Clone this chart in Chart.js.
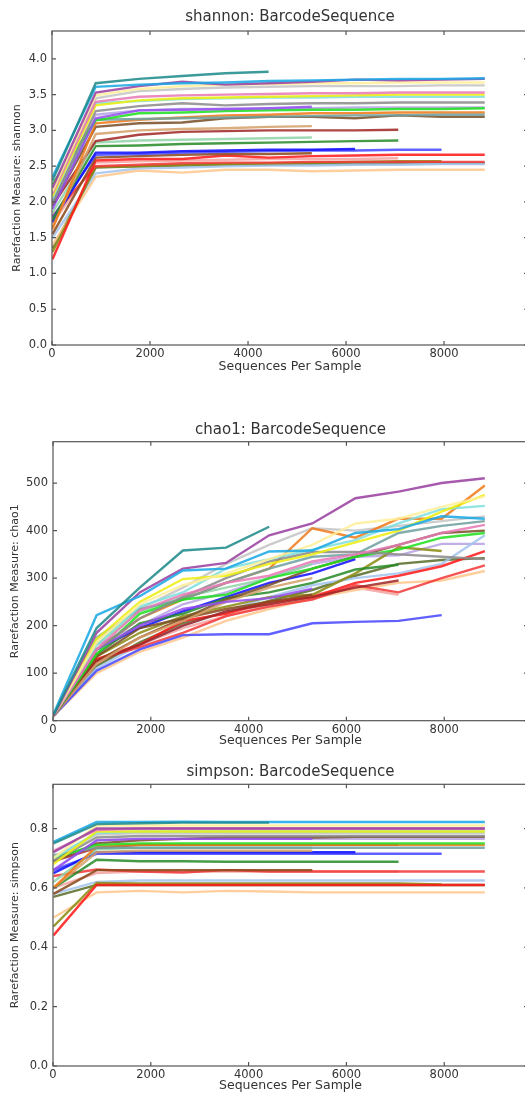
<!DOCTYPE html>
<html>
<head>
<meta charset="utf-8">
<script src="https://cdn.jsdelivr.net/npm/chart.js@4.4.1/dist/chart.umd.min.js"></script>
<style>
html, body { margin: 0; padding: 0; background: #fff; overflow: hidden; width: 525px; height: 1095px; }
canvas { position: absolute; left: 0; }
</style>
</head>
<body>
<canvas id="c1" width="545" height="374" style="top:0px"></canvas>
<canvas id="c2" width="545" height="338" style="top:410px"></canvas>
<canvas id="c3" width="545" height="341" style="top:752px"></canvas>
<script>
// rarefaction depths (x)
const depths = [10, 892, 1774, 2656, 3538, 4420, 5302, 6184, 7066, 7948, 8830];
const xTicks = [0, 2000, 4000, 6000, 8000];

const sampleColors = [
  '#1f8a8a', '#19a9e6', '#9a3fa0', '#ffef9a', '#e87ab8', '#eeee10', '#80e0dc', '#8c8c8c',
  '#9650f0', '#20e020', '#70a0a0', '#f07a1a', '#7a5028', '#d4a06a', '#a02828', '#90d4a8',
  '#2a8c2a', '#1010ff', '#4848ff', '#8b4a1c', '#ff1a1a', '#f23a3a', '#8c8c14', '#a4c4ec',
  '#ffc68e', '#5a6e2a', '#f4a4a0', '#b8a4e4', '#c4c4c4'
];

const shannon = [
  [2.30, 3.66, 3.72, 3.76, 3.80, 3.82],
  [2.35, 3.61, 3.64, 3.66, 3.67, 3.69, 3.70, 3.71, 3.72, 3.72, 3.73],
  [2.20, 3.53, 3.62, 3.68, 3.64, 3.66, 3.68, 3.71, 3.70, 3.71, 3.72],
  [2.15, 3.49, 3.58, 3.62, 3.64, 3.65, 3.66, 3.66, 3.67, 3.67, 3.67],
  [2.12, 3.40, 3.47, 3.49, 3.50, 3.51, 3.52, 3.52, 3.53, 3.53, 3.53],
  [2.08, 3.35, 3.42, 3.45, 3.46, 3.47, 3.48, 3.49, 3.50, 3.50, 3.50],
  [2.05, 3.38, 3.41, 3.44, 3.45, 3.46, 3.46, 3.47, 3.47, 3.47, 3.47],
  [1.98, 3.27, 3.34, 3.38, 3.35, 3.37, 3.38, 3.38, 3.39, 3.39, 3.39],
  [1.90, 3.17, 3.28, 3.29, 3.30, 3.31, 3.33],
  [2.25, 3.14, 3.24, 3.25, 3.27, 3.28, 3.29, 3.29, 3.30, 3.30, 3.31],
  [2.00, 3.15, 3.16, 3.17, 3.18, 3.19, 3.20, 3.21, 3.21, 3.22, 3.22],
  [1.62, 3.10, 3.15, 3.18, 3.21, 3.22, 3.24, 3.24, 3.25, 3.25, 3.25],
  [1.95, 3.05, 3.10, 3.11, 3.17, 3.19, 3.19, 3.17, 3.21, 3.19, 3.19],
  [1.65, 2.95, 3.00, 3.02, 3.03, 3.05, 3.06],
  [1.95, 2.85, 2.94, 2.98, 2.99, 3.00, 3.00, 3.00, 3.01],
  [1.85, 2.83, 2.86, 2.87, 2.88, 2.89, 2.90],
  [1.75, 2.78, 2.79, 2.81, 2.82, 2.83, 2.84, 2.85, 2.86],
  [1.72, 2.69, 2.69, 2.71, 2.72, 2.73, 2.73, 2.74],
  [1.78, 2.66, 2.67, 2.69, 2.70, 2.71, 2.72, 2.72, 2.73, 2.73],
  [1.55, 2.62, 2.64, 2.66, 2.67, 2.67, 2.68],
  [1.20, 2.58, 2.60, 2.60, 2.65, 2.62, 2.64, 2.65, 2.66, 2.66, 2.66],
  [1.80, 2.50, 2.52, 2.54, 2.55, 2.55, 2.56, 2.56, 2.56, 2.56, 2.56],
  [1.30, 2.49, 2.50, 2.52, 2.53, 2.54, 2.55, 2.56, 2.57, 2.57],
  [1.50, 2.40, 2.47, 2.48, 2.50, 2.51, 2.51, 2.52, 2.52, 2.53, 2.53],
  [1.40, 2.35, 2.44, 2.41, 2.45, 2.45, 2.43, 2.44, 2.45, 2.45, 2.45],
  [1.35, 2.48, 2.50, 2.51, 2.52, 2.52, 2.53, 2.53, 2.54, 2.54, 2.54],
  [1.70, 2.55, 2.57, 2.58, 2.59, 2.60, 2.60, 2.60, 2.61],
  [2.02, 3.22, 3.28, 3.30, 3.30, 3.30, 3.31, 3.32, 3.32, 3.32, 3.32],
  [2.10, 3.45, 3.55, 3.58, 3.60, 3.61, 3.62, 3.62, 3.62, 3.63, 3.63]
];

const chao1 = [
  [12, 195, 280, 358, 364, 408],
  [14, 222, 262, 316, 320, 356, 358, 395, 403, 430, 425],
  [10, 185, 270, 320, 332, 390, 415, 468, 482, 500, 510],
  [10, 165, 245, 285, 310, 340, 370, 415, 425, 450, 472],
  [10, 150, 232, 265, 290, 305, 335, 350, 370, 395, 412],
  [10, 172, 250, 298, 305, 330, 350, 375, 400, 440, 475],
  [12, 160, 240, 270, 320, 340, 360, 380, 415, 445, 452],
  [10, 150, 215, 260, 300, 335, 355, 355, 350, 345, 340],
  [10, 150, 200, 235, 250, 258, 278],
  [10, 140, 225, 255, 265, 300, 320, 345, 360, 385, 395],
  [10, 175, 235, 255, 290, 320, 345, 350, 395, 410, 420],
  [10, 150, 215, 255, 290, 320, 405, 385, 425, 425, 495],
  [10, 135, 195, 215, 255, 285, 320, 345, 370, 395, 400],
  [10, 120, 175, 210, 250, 280, 300],
  [10, 125, 160, 200, 230, 245, 260, 280, 295],
  [10, 160, 230, 260, 280, 300, 330],
  [10, 140, 205, 225, 258, 270, 290, 318, 328],
  [10, 150, 195, 230, 260, 290, 310, 340],
  [10, 105, 150, 180, 182, 182, 205, 208, 210, 222],
  [10, 125, 175, 215, 235, 250, 265],
  [10, 130, 160, 210, 225, 250, 260, 290, 305, 325, 357],
  [10, 128, 155, 185, 220, 240, 255, 285, 270, 300, 327],
  [10, 135, 185, 220, 240, 260, 265, 310, 365, 357],
  [10, 110, 160, 200, 230, 260, 285, 300, 310, 330, 390],
  [10, 100, 145, 175, 210, 235, 258, 275, 290, 295, 315],
  [10, 115, 165, 205, 228, 252, 275, 305, 330, 338, 342],
  [10, 120, 160, 195, 220, 245, 265, 280, 265],
  [10, 160, 200, 245, 270, 300, 330, 345, 348, 372, 372],
  [10, 170, 235, 280, 330, 370, 405, 400, 410, 420, 430]
];

const simpson = [
  [0.750, 0.815, 0.818, 0.820, 0.820, 0.820],
  [0.755, 0.822, 0.822, 0.823, 0.822, 0.822, 0.822, 0.822, 0.822, 0.822, 0.822],
  [0.720, 0.800, 0.800, 0.800, 0.800, 0.800, 0.800, 0.800, 0.800, 0.800, 0.800],
  [0.700, 0.810, 0.810, 0.810, 0.810, 0.810, 0.810, 0.810, 0.810, 0.810, 0.810],
  [0.725, 0.795, 0.800, 0.800, 0.800, 0.800, 0.800, 0.800, 0.800, 0.800, 0.800],
  [0.680, 0.790, 0.790, 0.790, 0.790, 0.790, 0.790, 0.790, 0.790, 0.790, 0.790],
  [0.700, 0.785, 0.790, 0.790, 0.790, 0.790, 0.790, 0.790, 0.790, 0.790, 0.790],
  [0.690, 0.770, 0.775, 0.775, 0.775, 0.775, 0.775, 0.775, 0.775, 0.775, 0.775],
  [0.660, 0.760, 0.765, 0.765, 0.765, 0.765, 0.765],
  [0.700, 0.745, 0.750, 0.750, 0.750, 0.750, 0.750, 0.750, 0.750, 0.750, 0.750],
  [0.710, 0.735, 0.735, 0.735, 0.735, 0.735, 0.735, 0.735, 0.735, 0.735, 0.735],
  [0.600, 0.740, 0.745, 0.745, 0.745, 0.745, 0.745, 0.745, 0.745, 0.745, 0.745],
  [0.690, 0.750, 0.760, 0.765, 0.770, 0.770, 0.770, 0.772, 0.772, 0.772, 0.772],
  [0.600, 0.720, 0.725, 0.725, 0.725, 0.725, 0.725],
  [0.690, 0.735, 0.745, 0.745, 0.745, 0.745, 0.745, 0.745, 0.745],
  [0.620, 0.730, 0.735, 0.735, 0.735, 0.735, 0.735],
  [0.600, 0.695, 0.690, 0.690, 0.688, 0.688, 0.688, 0.688, 0.688],
  [0.650, 0.720, 0.720, 0.720, 0.720, 0.720, 0.720, 0.720],
  [0.660, 0.715, 0.715, 0.715, 0.715, 0.715, 0.715, 0.715, 0.715, 0.715],
  [0.580, 0.660, 0.660, 0.660, 0.660, 0.660, 0.660],
  [0.440, 0.610, 0.610, 0.610, 0.610, 0.610, 0.610, 0.610, 0.610, 0.610, 0.610],
  [0.640, 0.662, 0.655, 0.652, 0.660, 0.655, 0.655, 0.655, 0.655, 0.655, 0.655],
  [0.470, 0.617, 0.615, 0.615, 0.615, 0.615, 0.615, 0.615, 0.615, 0.612],
  [0.580, 0.620, 0.625, 0.625, 0.625, 0.625, 0.625, 0.625, 0.625, 0.625, 0.625],
  [0.500, 0.585, 0.590, 0.585, 0.590, 0.588, 0.585, 0.585, 0.585, 0.585, 0.585],
  [0.570, 0.610, 0.610, 0.610, 0.610, 0.610, 0.610, 0.610, 0.610, 0.610, 0.610],
  [0.600, 0.650, 0.655, 0.655, 0.655, 0.655, 0.655, 0.655, 0.655],
  [0.660, 0.760, 0.765, 0.765, 0.765, 0.765, 0.765, 0.765, 0.765, 0.765, 0.765],
  [0.700, 0.780, 0.785, 0.785, 0.785, 0.785, 0.785, 0.785, 0.785, 0.785, 0.785]
];

const X_MAX = 9713;
const FONT = '"DejaVu Sans", sans-serif';
const TEXT = '#333';

// matplotlib-like box with inward ticks on all four sides
const frame = {
  id: 'frame',
  afterDraw(chart) {
    const {ctx, chartArea: a, scales: {x, y}} = chart;
    ctx.save();
    ctx.strokeStyle = '#555';
    ctx.lineWidth = 1.2;
    ctx.strokeRect(a.left, a.top, a.right - a.left, a.bottom - a.top);
    ctx.beginPath();
    x.ticks.forEach(t => {
      const px = x.getPixelForValue(t.value);
      ctx.moveTo(px, a.top); ctx.lineTo(px, a.top + 4);
      ctx.moveTo(px, a.bottom); ctx.lineTo(px, a.bottom - 4);
    });
    y.ticks.forEach(t => {
      const py = y.getPixelForValue(t.value);
      ctx.moveTo(a.left, py); ctx.lineTo(a.left + 4, py);
      ctx.moveTo(a.right, py); ctx.lineTo(a.right - 4, py);
    });
    ctx.stroke();
    ctx.restore();
  }
};

function makeChart(id, title, yTitle, series, yMax, yStep, dec, g) {
  const datasets = series.map((vals, i) => ({
    data: vals.map((v, j) => ({x: depths[j], y: v})),
    borderColor: sampleColors[i] + 'dd',
    borderWidth: 2.4,
    pointRadius: 0,
    tension: 0,
    fill: false
  }));
  return new Chart(document.getElementById(id), {
    type: 'line',
    data: {datasets},
    plugins: [frame],
    options: {
      responsive: false,
      animation: false,
      layout: {padding: {left: 0, right: 17, top: 0, bottom: 0}},
      plugins: {
        legend: {display: false},
        tooltip: {enabled: false},
        title: {
          display: true, text: title, color: TEXT, fullSize: false,
          font: {family: FONT, size: 15, weight: 'normal'},
          padding: {top: g.titleTop, bottom: g.titleBottom}
        }
      },
      scales: {
        x: {
          type: 'linear', min: 0, max: X_MAX,
          grid: {display: false, drawTicks: false},
          border: {display: false},
          afterBuildTicks: s => { s.ticks = xTicks.map(v => ({value: v})); },
          ticks: {color: TEXT, padding: g.xPad, autoSkip: false,
                  font: {family: FONT, size: 11.5}, maxRotation: 0,
                  callback: v => String(v)},
          title: {display: true, text: 'Sequences Per Sample', color: TEXT,
                  font: {family: FONT, size: 12.5}, padding: {top: 0, bottom: 0}},
          afterFit: s => { s.height = g.xHeight; }
        },
        y: {
          min: 0, max: yMax,
          grid: {display: false, drawTicks: false},
          border: {display: false},
          ticks: {stepSize: yStep, includeBounds: false, color: TEXT, padding: 5,
                  font: {family: FONT, size: 11.5},
                  callback: v => v.toFixed(dec)},
          title: {display: true, text: yTitle, color: TEXT,
                  font: {family: FONT, size: 11}, padding: {top: g.yTitlePad, bottom: 0}},
          afterFit: s => { s.width = g.left; }
        }
      }
    }
  });
}

makeChart('c1', 'shannon: BarcodeSequence', 'Rarefaction Measure: shannon', shannon, 4.39, 0.5, 1,
  {titleTop: 8, titleBottom: 5, xPad: 2, xHeight: 29, left: 52, yTitlePad: 10.5});
makeChart('c2', 'chao1: BarcodeSequence', 'Rarefaction Measure: chao1', chao1, 587, 100, 0,
  {titleTop: 11, titleBottom: 2.7, xPad: 2, xHeight: 27.3, left: 53, yTitlePad: 8.5});
makeChart('c3', 'simpson: BarcodeSequence', 'Rarefaction Measure: simpson', simpson, 0.949, 0.2, 1,
  {titleTop: 11, titleBottom: 3.3, xPad: 2, xHeight: 27, left: 53, yTitlePad: 8.5});
</script>
</body>
</html>
